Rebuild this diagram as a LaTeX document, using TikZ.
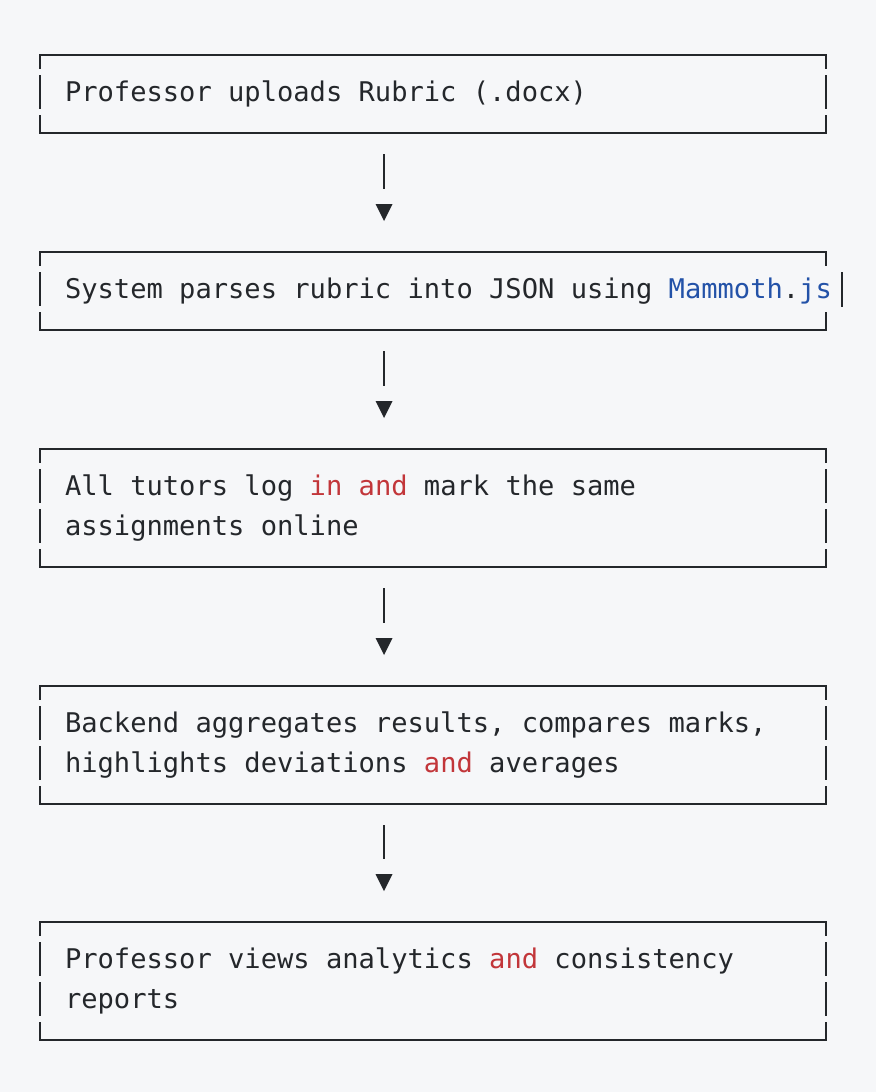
\documentclass[tikz,border=0pt]{standalone}
\usepackage{fontspec}
\setmonofont{DejaVu Sans Mono}
\usetikzlibrary{positioning,calc}

\definecolor{pagebg}{HTML}{F6F7F9}
\definecolor{ink}{HTML}{24272B}
\definecolor{kwred}{HTML}{C2363A}
\definecolor{kwblue}{HTML}{2352A8}
\newcommand{\codefont}{\ttfamily\fontsize{27.1}{39.5}\selectfont}
\newcommand{\kw}[1]{\textcolor{kwred}{#1}}
\newcommand{\lib}[1]{\textcolor{kwblue}{#1}}
% little breaks in the side bars, one per text row
\newcommand{\sidegaps}[2]{%
  \foreach \k in {0,...,#2} {
    \fill[pagebg] ($(#1.north west)+(-3,-14-40*\k)$) rectangle ++(6,-6);
    \fill[pagebg] ($(#1.north east)+(-3,-14-40*\k)$) rectangle ++(6,-6);
  }}

\begin{document}
\begin{tikzpicture}[x=1pt, y=1pt, node distance=119pt,
    every node/.style={font=\codefont, text=ink},
    box/.style={draw=ink, line width=2pt, outer sep=0pt, inner xsep=25pt, inner ysep=0pt,
      minimum width=786pt, text width=736pt, align=left,
      execute at begin node={\spaceskip=16.32pt\relax}},
    onerow/.style={minimum height=78pt},
    tworow/.style={minimum height=118pt},
    link/.style={draw=ink, line width=2pt, shorten <=21pt, shorten >=63pt},
    tip/.style={fill=ink}]
    \fill[pagebg] (0,0) rectangle (876,-1092);
    \useasboundingbox (0,0) rectangle (876,-1092);

    \node[box, onerow, anchor=north west] (upload) at (40,-55) {Professor uploads Rubric (.docx)};
    \node[box, onerow, draw=none, below=of upload] (parse) {\mbox{System parses rubric into JSON using \lib{Mammoth}.\lib{js}}};
    \node[box, tworow, below=of parse] (marking) {All tutors log \kw{in and} mark the same\\assignments online};
    \node[box, tworow, below=of marking] (aggregate) {Backend aggregates results, compares marks,\\highlights deviations \kw{and} averages};
    \node[box, tworow, below=118pt of aggregate] (analytics) {Professor views analytics \kw{and} consistency\\reports};

    % the long line pushes its right bar outwards
    \draw[ink, line width=2pt] ($(parse.north east)+(0,-14)$) -- (parse.north east) -- (parse.north west)
      -- (parse.south west) -- (parse.south east) -- ($(parse.south east)+(0,18)$);
    \draw[ink, line width=2pt] ($(parse.north east)+(16,-20)$) -- ($(parse.north east)+(16,-55)$);

    \sidegaps{upload}{1}
    \sidegaps{parse}{1}
    \sidegaps{marking}{2}
    \sidegaps{aggregate}{2}
    \sidegaps{analytics}{2}

    \foreach \a/\b in {upload/parse, parse/marking, marking/aggregate, aggregate/analytics} {
      \draw[link] ($(\a.south west)+(344,0)$) -- ($(\b.north west)+(344,0)$);
      \fill[tip] ($(\b.north west)+(335.5,48)$) -- ++(17,0) -- ($(\b.north west)+(344,31)$) -- cycle;
    }
\end{tikzpicture}
\end{document}
